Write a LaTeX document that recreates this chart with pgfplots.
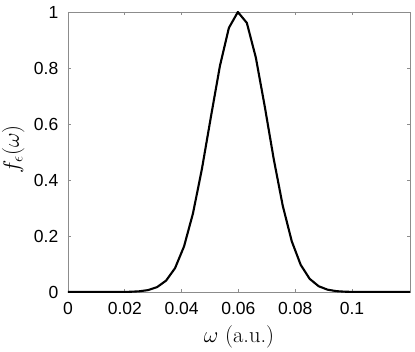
\documentclass[border=0pt]{standalone}
\usepackage{fix-cm}
\usepackage{fontspec}
\usepackage{pgfplots}
\pgfplotsset{compat=1.18}
\newfontfamily\arial{Liberation Sans}
\begin{document}
\begin{tikzpicture}
\path[use as bounding box] (-68pt,-59pt) rectangle (347pt,292pt);
\begin{axis}[
  scale only axis,
  at={(0pt,0pt)}, anchor=south west,
  width=342pt, height=280pt,
  xmin=0, xmax=0.1204, ymin=0, ymax=1,
  xtick={0,0.02,0.04,0.06,0.08,0.1},
  xticklabels={0,0.02,0.04,0.06,0.08,0.1},
  ytick={0,0.2,0.4,0.6,0.8,1},
  yticklabels={0,0.2,0.4,0.6,0.8,1},
  /pgf/number format/assume math mode=true,
  tick label style={font=\arial\fontsize{17.5}{18}\selectfont, text=black, inner sep=0pt},
  xticklabel style={anchor=north, yshift=-10.5pt},
  yticklabel style={anchor=east, xshift=-9.5pt},
  tick align=inside,
  major tick length=3.5pt,
  axis line style={draw=black!45, line width=0.7pt},
  every tick/.style={draw=black!45, line width=0.7pt},
  xlabel={$\omega$ (a.u.)},
  ylabel={$f_\epsilon(\omega)$},
  label style={font=\fontsize{22.5}{25}\selectfont},
  xlabel style={at={(axis description cs:0.5,-0.18)}, anchor=base},
  ylabel style={at={(axis description cs:-0.16,0.51)}, anchor=center},
  clip=true,
]
\addplot[black, line width=2.1pt] coordinates {
(0,0) (0.01240,0) (0.01556,0.00005) (0.01872,0.00022) (0.02188,0.00078) (0.02504,0.00242)
(0.02820,0.00682) (0.03136,0.0175) (0.03452,0.0405) (0.03768,0.0851) (0.04084,0.1624)
(0.04400,0.2808) (0.04716,0.4403) (0.05032,0.6260) (0.05348,0.8071) (0.05664,0.9434)
(0.05980,1.0000) (0.06296,0.9611) (0.06612,0.8376) (0.06928,0.6619) (0.07244,0.4742)
(0.07560,0.3082) (0.07876,0.1816) (0.08192,0.0970) (0.08508,0.0470) (0.08824,0.0206)
(0.09140,0.00822) (0.09456,0.00297) (0.09772,0.00097) (0.10088,0.00028) (0.10404,0.00007)
(0.10720,0) (0.1204,0)
};
\end{axis}
\end{tikzpicture}
\end{document}
